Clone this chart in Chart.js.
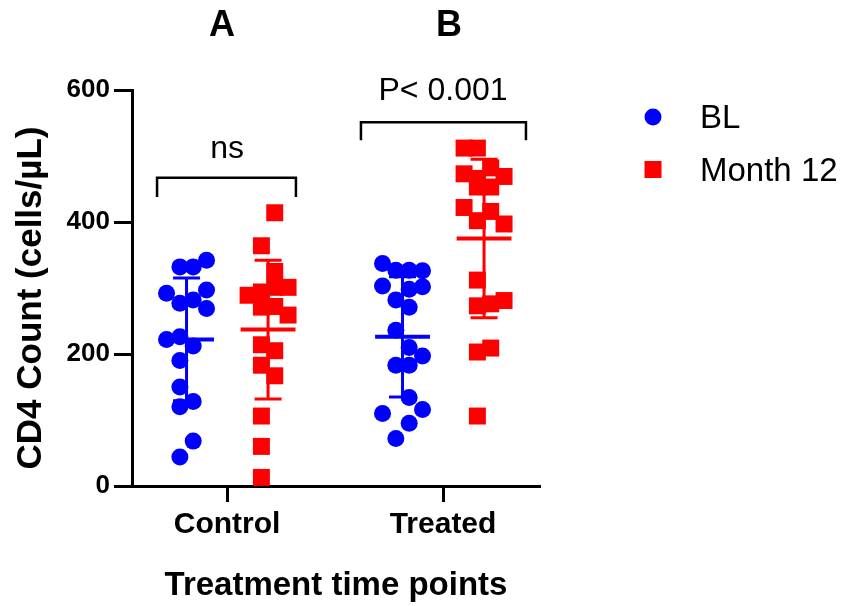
<!DOCTYPE html>
<html><head><meta charset="utf-8">
<script src="https://cdn.jsdelivr.net/npm/chart.js@4.4.1/dist/chart.umd.min.js"></script>
<style>html,body{margin:0;padding:0;background:#fff}</style>
</head><body>
<canvas id="c" width="842" height="606"></canvas>
<script>
// ---------------- data ----------------
const categories = ['Control', 'Treated'];
const seriesNames = ['BL', 'Month 12'];
const yTickValues = [0, 200, 400, 600];
const controlBL = [342, 332, 332, 292, 297, 277, 282, 269, 222, 226, 212, 190, 150, 128, 120, 68, 44];
const controlBLSlot = [1.5, 0.5, -0.5, -1.5, 1.5, -0.5, 0.5, 1.5, -1.5, -0.5, 0.5, -0.5, -0.5, 0.5, -0.5, 0.5, -0.5];
const controlM12 = [414, 364, 325, 289, 294, 301, 301, 271, 272, 259, 214, 205, 183, 167, 106, 60, 13];
const controlM12Slot = [0.5, -0.5, 0.5, -1.5, -0.5, 0.5, 1.5, -0.5, 0.5, 1.5, -0.5, 0.5, -0.5, 0.5, -0.5, -0.5, -0.5];
const treatedBL = [337, 327, 327, 326, 303, 298, 302, 282, 271, 236, 210, 197, 183, 183, 134, 116, 110, 95, 72];
const treatedBLSlot = [-1.5, -0.5, 0.5, 1.5, -1.5, 0.5, 1.5, -0.5, 0.5, -0.5, 0.5, 1.5, -0.5, 0.5, 0.5, 1.5, -1.5, 0.5, -0.5];
const treatedM12 = [512, 512, 482, 473, 469, 466, 453, 453, 422, 416, 402, 397, 312, 281, 276, 273, 209, 203, 106];
const treatedM12Slot = [-1.5, -0.5, 0.5, -1.5, 1.5, -0.5, -0.5, 0.5, -1.5, 0.5, -0.5, 1.5, -0.5, 1.5, 0.5, -0.5, 0.5, -0.5, -0.5];
const meanBL = [222, 226];
const sdBL = [93, 91];
const meanM12 = [237, 375];
const sdM12 = [105, 120];
const sigLabels = ['ns', 'P< 0.001'];
const panelLabels = ['A', 'B'];
const yTitle = 'CD4 Count (cells/µL)';

// ---------------- layout / style ----------------
const FONT = "'Liberation Sans', Arial, Helvetica, sans-serif";
const BLUE = '#0000FF', RED = '#FF0000';
const OFF_BL = -0.1875, OFF_M12 = 0.19, STEP = 0.0617;
const MEAN_HALF = 0.127, CAP_HALF = 0.0625;
const brackets = [
  { x0: 0.676, x1: 1.319, top: 467, leg: 438 },
  { x0: 1.620, x1: 2.384, top: 551, leg: 524 }
];
const sigPos = [{ x: 1.0, y: 497 }, { x: 2.0, y: 585 }];
const panelPos = [{ x: 0.977, y: 682 }, { x: 2.028, y: 682 }];

function pts(vals, slots, ci, off) {
  return vals.map((v, i) => ({ x: ci + 1 + off + slots[i] * STEP, y: v }));
}
function meanLines(means, off) {
  const d = [];
  means.forEach((m, i) => {
    const c = i + 1 + off;
    d.push({ x: c - MEAN_HALF, y: m }, { x: c + MEAN_HALF, y: m }, { x: c, y: null });
  });
  return d;
}
function whiskers(means, sds, off) {
  const d = [];
  means.forEach((m, i) => {
    const c = i + 1 + off, s = sds[i];
    d.push({ x: c, y: m - s }, { x: c, y: m + s }, { x: c, y: null });
    d.push({ x: c - CAP_HALF, y: m + s }, { x: c + CAP_HALF, y: m + s }, { x: c, y: null });
    d.push({ x: c - CAP_HALF, y: m - s }, { x: c + CAP_HALF, y: m - s }, { x: c, y: null });
  });
  return d;
}
function bracketData() {
  const d = [];
  brackets.forEach(b => {
    d.push({ x: b.x0, y: b.leg }, { x: b.x0, y: b.top }, { x: b.x1, y: b.top }, { x: b.x1, y: b.leg }, { x: b.x1, y: null });
  });
  return d;
}

const lineDs = (data, color, w, order) => ({
  data, showLine: true, borderColor: color, borderWidth: w, pointRadius: 0,
  spanGaps: false, borderCapStyle: 'butt', order, clip: false
});

const datasets = [
  { label: seriesNames[0], data: pts(controlBL, controlBLSlot, 0, OFF_BL).concat(pts(treatedBL, treatedBLSlot, 1, OFF_BL)),
    pointStyle: 'circle', pointRadius: 8.5, pointBackgroundColor: BLUE, pointBorderWidth: 0, order: 1, clip: false },
  { label: seriesNames[1], data: pts(controlM12, controlM12Slot, 0, OFF_M12).concat(pts(treatedM12, treatedM12Slot, 1, OFF_M12)),
    pointStyle: 'rect', pointRadius: 12, pointBackgroundColor: RED, pointBorderWidth: 0, order: 1, clip: false },
  lineDs(meanLines(meanBL, OFF_BL), BLUE, 4, 2),
  lineDs(whiskers(meanBL, sdBL, OFF_BL), BLUE, 3, 2),
  lineDs(meanLines(meanM12, OFF_M12), RED, 4, 2),
  lineDs(whiskers(meanM12, sdM12, OFF_M12), RED, 3, 2),
  lineDs(bracketData(), '#000', 2.5, 3)
];

const textPlugin = {
  id: 'texts',
  afterDraw(chart) {
    const { ctx, scales: { x, y }, chartArea } = chart;
    ctx.save();
    ctx.fillStyle = '#000';
    ctx.textAlign = 'center';
    ctx.textBaseline = 'alphabetic';
    ctx.font = 'bold 36px ' + FONT;
    panelLabels.forEach((t, i) => ctx.fillText(t, x.getPixelForValue(panelPos[i].x), y.getPixelForValue(panelPos[i].y)));
    ctx.font = '32px ' + FONT;
    sigLabels.forEach((t, i) => ctx.fillText(t, x.getPixelForValue(sigPos[i].x), y.getPixelForValue(sigPos[i].y)));
    // y axis title
    ctx.save();
    ctx.translate(31, (chartArea.top + chartArea.bottom) / 2 + 10);
    ctx.rotate(-Math.PI / 2);
    ctx.textBaseline = 'middle';
    ctx.font = 'bold 35px ' + FONT;
    ctx.fillText(yTitle, 0, 0);
    ctx.restore();
    // legend
    const lx = chartArea.right + 113;
    ctx.font = '33px ' + FONT;
    ctx.textAlign = 'left';
    ctx.fillStyle = BLUE;
    ctx.beginPath(); ctx.arc(lx, 117, 8.5, 0, Math.PI * 2); ctx.fill();
    ctx.fillStyle = RED;
    ctx.fillRect(lx - 8.5, 161, 17, 17);
    ctx.fillStyle = '#000';
    ctx.fillText(seriesNames[0], lx + 47, 128);
    ctx.fillText(seriesNames[1], lx + 47, 181);
    ctx.restore();
  }
};

new Chart(document.getElementById('c'), {
  type: 'scatter',
  data: { datasets },
  options: {
    responsive: false,
    animation: false,
    devicePixelRatio: 1,
    layout: { padding: { top: 90, right: 302, left: 0, bottom: 0 } },
    plugins: { legend: { display: false }, tooltip: { enabled: false } },
    scales: {
      x: {
        type: 'linear', min: 0.56, max: 2.449,
        afterBuildTicks: s => { s.ticks = [{ value: 1 }, { value: 2 }]; },
        afterFit: s => { s.height = 120; },
        ticks: { callback: v => categories[Math.round(v) - 1], color: '#000', padding: 5,
                 font: { family: FONT, size: 30, weight: 'bold' }, maxRotation: 0, autoSkip: false },
        grid: { drawOnChartArea: false, drawTicks: true, tickLength: 16, tickWidth: 3, tickColor: '#000' },
        border: { color: '#000', width: 3 },
        title: { display: true, text: 'Treatment time points', color: '#000',
                 font: { family: FONT, size: 33, weight: 'bold' }, padding: { top: 0, bottom: 0 } }
      },
      y: {
        min: 0, max: 600,
        afterBuildTicks: s => { s.ticks = yTickValues.map(v => ({ value: v })); },
        afterFit: s => { s.width = 132; },
        ticks: { color: '#000', padding: 4, font: { family: FONT, size: 26, weight: 'bold' } },
        grid: { drawOnChartArea: false, drawTicks: true, tickLength: 18, tickWidth: 3, tickColor: '#000' },
        border: { color: '#000', width: 3 },
        title: { display: false }
      }
    }
  },
  plugins: [textPlugin]
});
</script>
</body></html>
